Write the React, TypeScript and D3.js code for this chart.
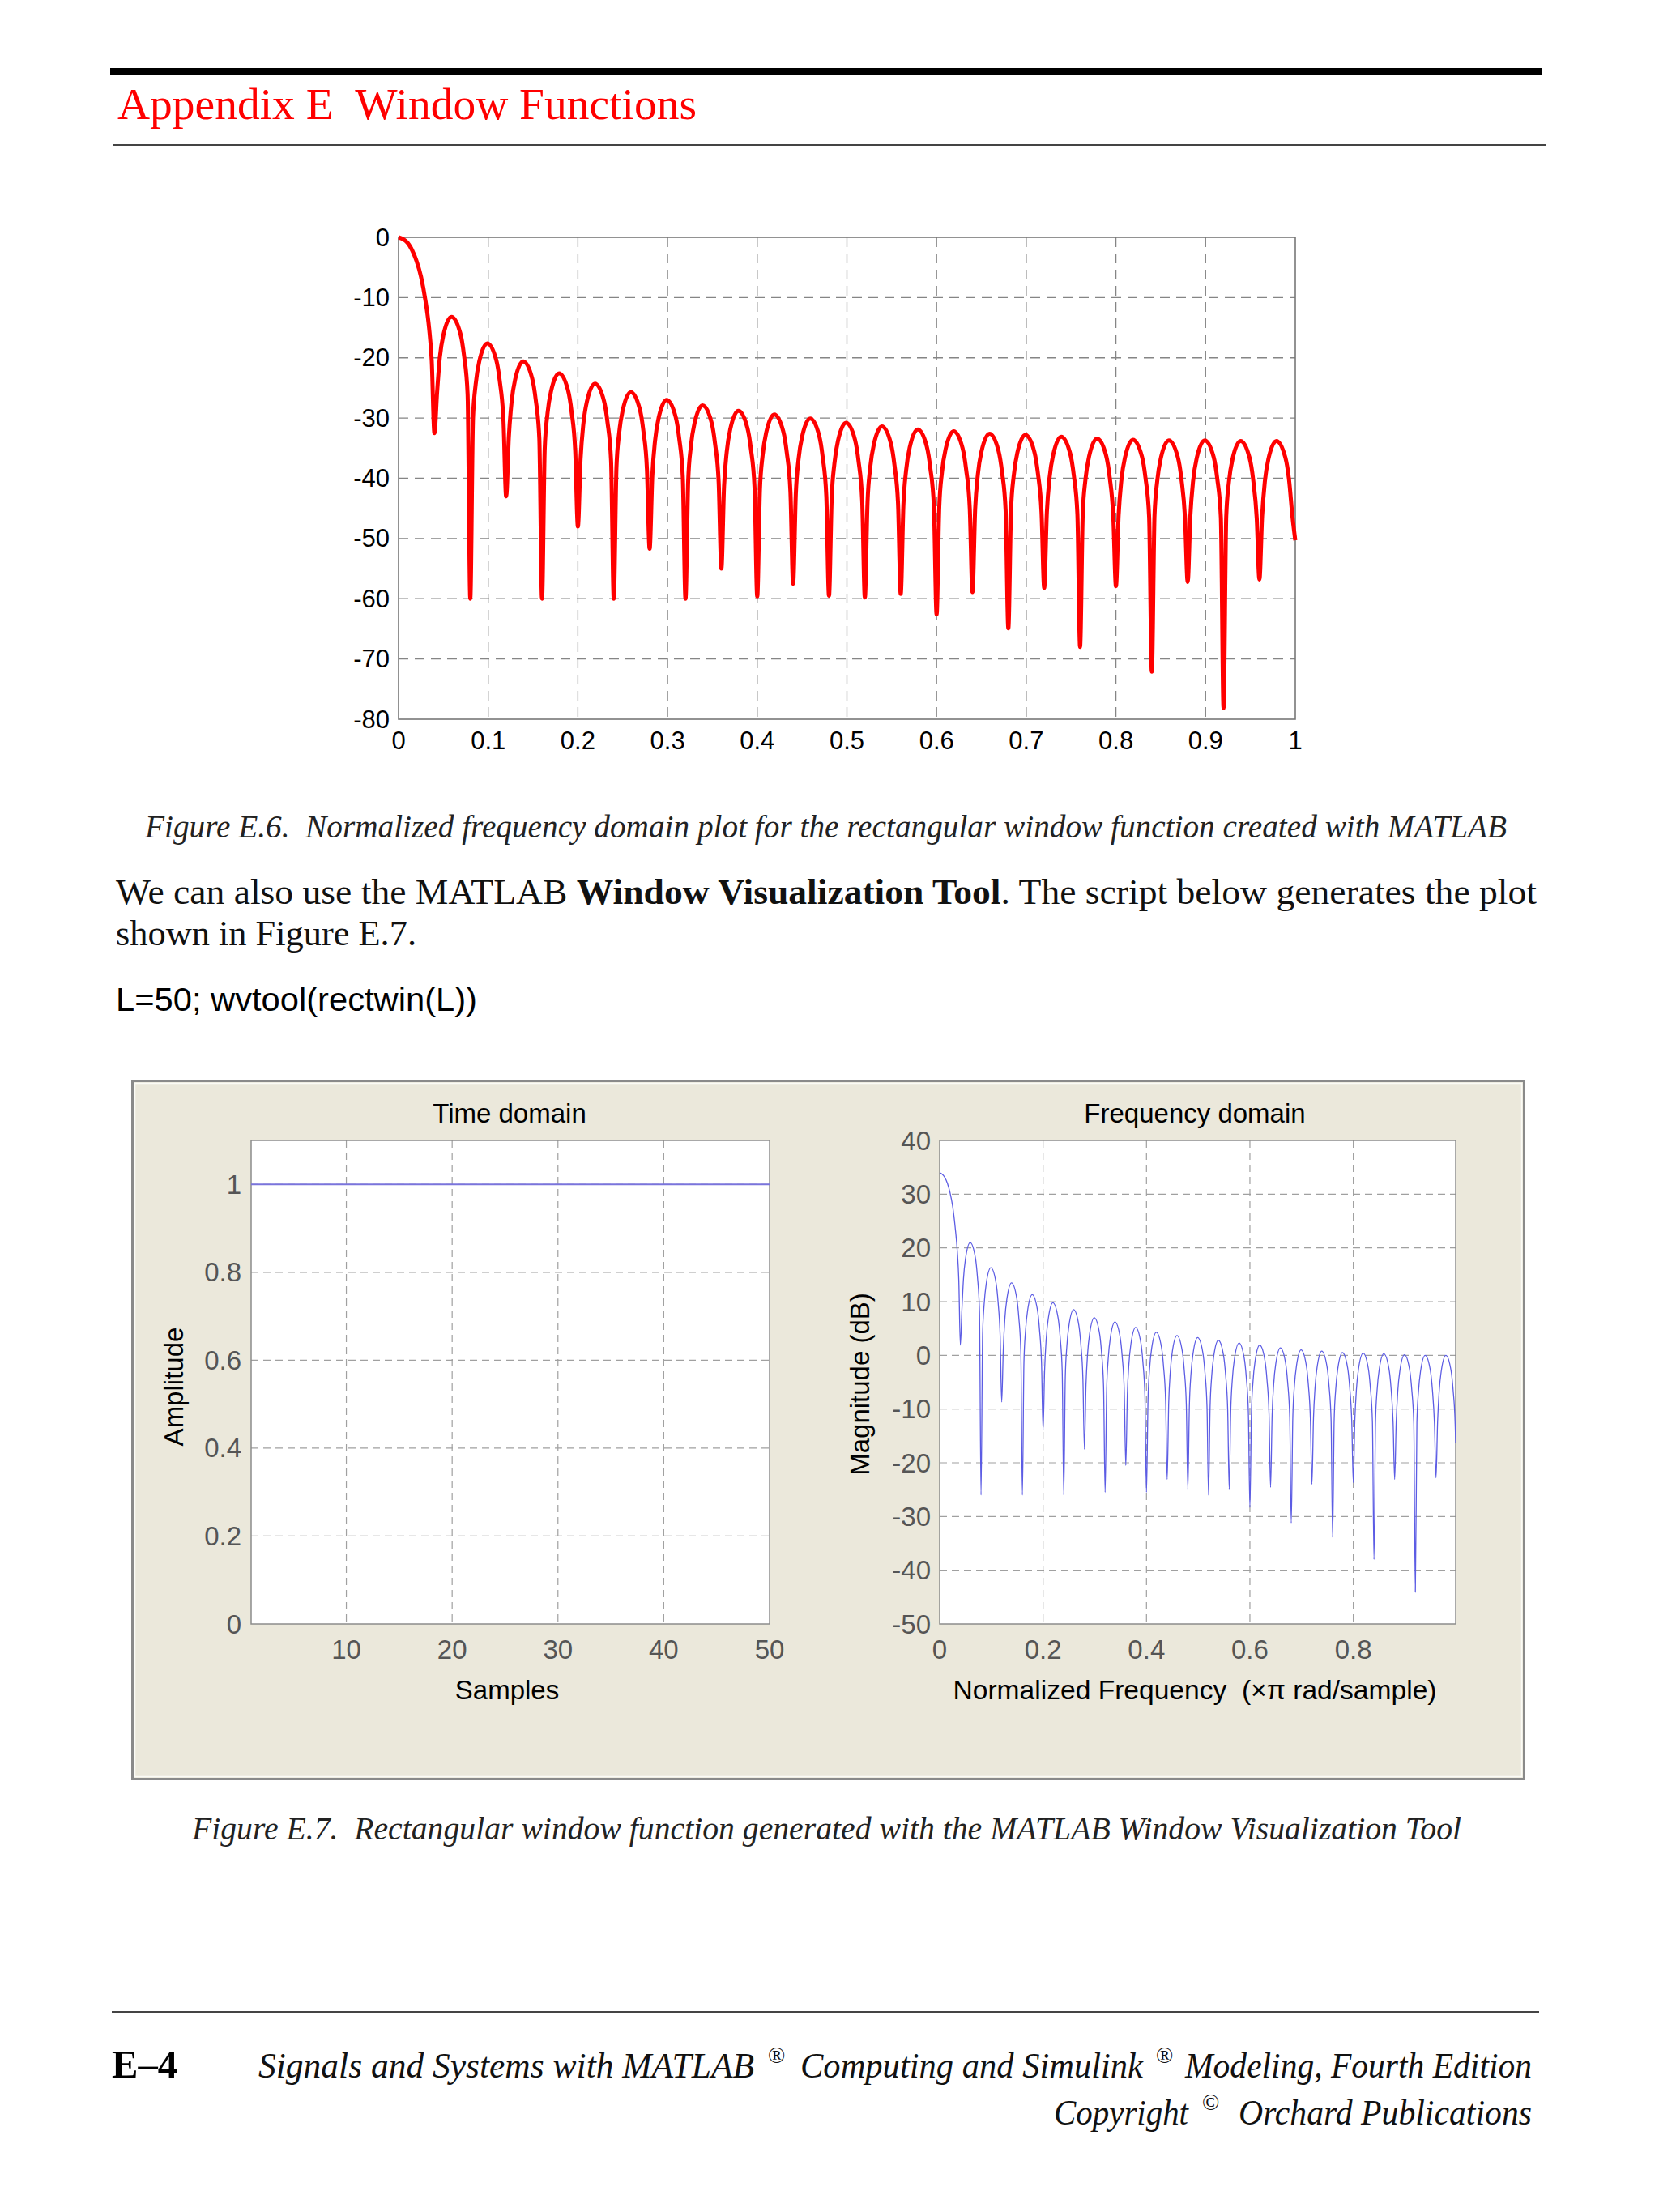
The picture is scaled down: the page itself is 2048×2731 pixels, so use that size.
import React from 'react';
import * as d3 from 'd3';

// ---------- Figure E.6 (red, normalized dB) ----------
const redXTicks = [0, 0.1, 0.2, 0.3, 0.4, 0.5, 0.6, 0.7, 0.8, 0.9, 1];
const redXLabels = ['0', '0.1', '0.2', '0.3', '0.4', '0.5', '0.6', '0.7', '0.8', '0.9', '1'];
const redYTicks = [0, -10, -20, -30, -40, -50, -60, -70, -80];

// frequencies of the side-lobe left nulls (x pi rad/sample)
const nullFreq = [0.04, 0.08, 0.12, 0.16, 0.2, 0.24, 0.28, 0.32, 0.36, 0.4, 0.44, 0.48,
  0.52, 0.56, 0.6, 0.64, 0.68, 0.72, 0.76, 0.8, 0.84, 0.88, 0.92, 0.96];
// sample positions inside each lobe, measured from its left null
const lobeOffsets = [0, 0.003, 0.006, 0.01, 0.019, 0.029, 0.033, 0.037];

const redMainLobe: [number, number][] = [
  [0, 0], [0.005, -0.3], [0.01, -0.9], [0.015, -2.1], [0.02, -3.9], [0.025, -6.5],
  [0.03, -10.5], [0.034, -15], [0.037, -20.5],
];
const redSideLobes = [
  [-32.5, -25.7, -20.0, -16.2, -13.2, -16.0, -19.6, -26.0],
  [-60, -30.1, -24.4, -20.6, -17.6, -20.4, -24.0, -30.4],
  [-43, -33.1, -27.4, -23.6, -20.6, -23.4, -27.0, -33.4],
  [-60, -35.1, -29.4, -25.6, -22.6, -25.4, -29.0, -35.4],
  [-48, -36.8, -31.1, -27.3, -24.3, -27.1, -30.7, -37.1],
  [-60, -38.2, -32.5, -28.7, -25.7, -28.5, -32.1, -38.5],
  [-51.7, -39.5, -33.8, -30.0, -27.0, -29.8, -33.4, -39.8],
  [-60, -40.4, -34.7, -30.9, -27.9, -30.7, -34.3, -40.7],
  [-55, -41.3, -35.6, -31.8, -28.8, -31.6, -35.2, -41.6],
  [-59.6, -41.9, -36.2, -32.4, -29.4, -32.2, -35.8, -42.2],
  [-57.5, -42.6, -36.9, -33.1, -30.1, -32.9, -36.5, -42.9],
  [-59.5, -43.3, -37.6, -33.8, -30.8, -33.6, -37.2, -43.6],
  [-59.8, -43.9, -38.2, -34.4, -31.4, -34.2, -37.8, -44.2],
  [-59.2, -44.4, -38.7, -34.9, -31.9, -34.7, -38.3, -44.7],
  [-62.6, -44.7, -39.0, -35.2, -32.2, -35.0, -38.6, -45.0],
  [-58.9, -45.1, -39.4, -35.6, -32.6, -35.4, -39.0, -45.4],
  [-64.9, -45.3, -39.6, -35.8, -32.8, -35.6, -39.2, -45.6],
  [-58.2, -45.6, -39.9, -36.1, -33.1, -35.9, -39.5, -45.9],
  [-68.0, -45.9, -40.2, -36.4, -33.4, -36.2, -39.8, -46.2],
  [-57.9, -46.1, -40.4, -36.6, -33.6, -36.4, -40.0, -46.4],
  [-72.1, -46.2, -40.5, -36.7, -33.7, -36.5, -40.1, -46.5],
  [-57.2, -46.2, -40.5, -36.7, -33.7, -36.5, -40.1, -46.5],
  [-78.2, -46.3, -40.6, -36.8, -33.8, -36.6, -40.2, -46.6],
  [-56.8, -46.3, -40.6, -36.8, -33.8, -36.6, -40.2, -46.6],
];
const redEnd: [number, number] = [1.0, -50.3];

// ---------- Figure E.7 (wvtool) ----------
const timeSamples = [1, 2, 3, 4, 5, 6, 7, 8, 9, 10, 11, 12, 13, 14, 15, 16, 17, 18, 19, 20, 21, 22, 23, 24, 25,
  26, 27, 28, 29, 30, 31, 32, 33, 34, 35, 36, 37, 38, 39, 40, 41, 42, 43, 44, 45, 46, 47, 48, 49, 50];
const timeAmplitude = [1, 1, 1, 1, 1, 1, 1, 1, 1, 1, 1, 1, 1, 1, 1, 1, 1, 1, 1, 1, 1, 1, 1, 1, 1,
  1, 1, 1, 1, 1, 1, 1, 1, 1, 1, 1, 1, 1, 1, 1, 1, 1, 1, 1, 1, 1, 1, 1, 1, 1];
const timeXTicks = [10, 20, 30, 40, 50];
const timeYTicks = [0, 0.2, 0.4, 0.6, 0.8, 1];
const timeYLabels = ['0', '0.2', '0.4', '0.6', '0.8', '1'];

const freqXTicks = [0, 0.2, 0.4, 0.6, 0.8];
const freqXLabels = ['0', '0.2', '0.4', '0.6', '0.8'];
const freqYTicks = [-50, -40, -30, -20, -10, 0, 10, 20, 30, 40];

const blueMainLobe: [number, number][] = [
  [0, 34], [0.005, 33.7], [0.01, 33.1], [0.015, 32.0], [0.02, 30.3], [0.025, 27.8],
  [0.03, 23.8], [0.034, 19.5], [0.037, 14],
];
const blueSideLobes = [
  [1.9, 8.5, 14.2, 18.0, 21.0, 18.2, 14.6, 8.2],
  [-26, 3.8, 9.5, 13.3, 16.3, 13.5, 9.9, 3.5],
  [-8.7, 1.0, 6.7, 10.5, 13.5, 10.7, 7.1, 0.7],
  [-26, -1.2, 4.5, 8.3, 11.3, 8.5, 4.9, -1.5],
  [-13.9, -2.7, 3.0, 6.8, 9.8, 7.0, 3.4, -3.0],
  [-26, -4.0, 1.7, 5.5, 8.5, 5.7, 2.1, -4.3],
  [-17.5, -5.5, 0.2, 4.0, 7.0, 4.2, 0.6, -5.8],
  [-25.5, -6.3, -0.6, 3.2, 6.2, 3.4, -0.2, -6.6],
  [-20.5, -7.3, -1.6, 2.2, 5.2, 2.4, -1.2, -7.6],
  [-25.5, -8.2, -2.5, 1.3, 4.3, 1.5, -2.1, -8.5],
  [-23.1, -8.8, -3.1, 0.7, 3.7, 0.9, -2.7, -9.1],
  [-24.9, -9.2, -3.5, 0.3, 3.3, 0.5, -3.1, -9.5],
  [-26, -9.7, -4.0, -0.2, 2.8, 0.0, -3.6, -10.0],
  [-24.9, -10.2, -4.5, -0.7, 2.3, -0.5, -4.1, -10.5],
  [-28.3, -10.6, -4.9, -1.1, 1.9, -0.9, -4.5, -10.9],
  [-24.6, -11.1, -5.4, -1.6, 1.4, -1.4, -5.0, -11.4],
  [-31.2, -11.5, -5.8, -2.0, 1.0, -1.8, -5.4, -11.8],
  [-24, -11.7, -6.0, -2.2, 0.8, -2.0, -5.6, -12.0],
  [-33.9, -12.0, -6.3, -2.5, 0.5, -2.3, -5.9, -12.3],
  [-23.7, -12.1, -6.4, -2.6, 0.4, -2.4, -6.0, -12.4],
  [-38, -12.2, -6.5, -2.7, 0.3, -2.5, -6.1, -12.5],
  [-23.1, -12.4, -6.7, -2.9, 0.1, -2.7, -6.3, -12.7],
  [-44.1, -12.5, -6.8, -3.0, 0.0, -2.8, -6.4, -12.8],
  [-22.8, -12.5, -6.8, -3.0, 0.0, -2.8, -6.4, -12.8],
];
const blueEnd: [number, number] = [0.998, -16.3];

function assemble(main: [number, number][], lobes: number[][], end: [number, number]) {
  const pts: [number, number][] = [...main];
  lobes.forEach((row, i) => {
    row.forEach((v, j) => pts.push([nullFreq[i] + lobeOffsets[j], v]));
  });
  pts.push(end);
  return pts;
}

const SANS = '"Liberation Sans", Arial, sans-serif';
const SERIF = '"Liberation Serif", "Times New Roman", serif';

export default function App() {
  // Figure E.6 scales
  const rx = d3.scaleLinear().domain([0, 1]).range([492, 1599]);
  const ry = d3.scaleLinear().domain([-80, 0]).range([888, 293]);
  const redLine = d3.line<[number, number]>().x(d => rx(d[0])).y(d => ry(d[1])).curve(d3.curveMonotoneX);
  const redPath = redLine(assemble(redMainLobe, redSideLobes, redEnd)) || '';

  // wvtool scales
  const tx = d3.scaleLinear().domain([1, 50]).range([310, 950]);
  const ty = d3.scaleLinear().domain([0, 1.1]).range([2005, 1408]);
  const fx = d3.scaleLinear().domain([0, 0.998]).range([1160, 1797]);
  const fy = d3.scaleLinear().domain([-50, 40]).range([2005, 1408]);
  const timeLine = d3.line<number>().x((_, i) => tx(timeSamples[i])).y(d => ty(d));
  const blueLine = d3.line<[number, number]>().x(d => fx(d[0])).y(d => fy(d[1])).curve(d3.curveMonotoneX);
  const bluePath = blueLine(assemble(blueMainLobe, blueSideLobes, blueEnd)) || '';

  const gridRed = '#858585';
  const gridWv = '#a0a0a0';
  const tickWv = '#555555';

  return (
    <svg width={2048} height={2731} viewBox="0 0 2048 2731"
      style={{ position: 'absolute', left: 0, top: 0, background: '#ffffff' }}>
      <rect x={0} y={0} width={2048} height={2731} fill="#ffffff" />

      {/* Header */}
      <rect x={136} y={84} width={1768} height={9} fill="#000" />
      <text x={145} y={147} fontFamily={SERIF} fontSize={54} fill="#ff0000"
        textLength={715} lengthAdjust="spacingAndGlyphs" style={{ whiteSpace: 'pre' }}>
        Appendix E  Window Functions
      </text>
      <line x1={140} x2={1909} y1={179} y2={179} stroke="#444" strokeWidth={2} />

      {/* Figure E.6 */}
      <g>
        <rect x={rx(0)} y={ry(0)} width={rx(1) - rx(0)} height={ry(-80) - ry(0)} fill="#fff" />
        {redXTicks.slice(1, -1).map(t => (
          <line key={'rgx' + t} x1={rx(t)} x2={rx(t)} y1={ry(0)} y2={ry(-80)}
            stroke={gridRed} strokeWidth={1.3} strokeDasharray="12,8" />
        ))}
        {redYTicks.slice(1, -1).map(t => (
          <line key={'rgy' + t} x1={rx(0)} x2={rx(1)} y1={ry(t)} y2={ry(t)}
            stroke={gridRed} strokeWidth={1.3} strokeDasharray="12,8" />
        ))}
        <rect x={rx(0)} y={ry(0)} width={rx(1) - rx(0)} height={ry(-80) - ry(0)}
          fill="none" stroke="#777" strokeWidth={1.6} />
        <path d={redPath} fill="none" stroke="#ff0000" strokeWidth={5} strokeLinejoin="round" />
        {redYTicks.map(t => (
          <text key={'ryl' + t} x={481} y={ry(t)} fontFamily={SANS} fontSize={31} textAnchor="end"
            dominantBaseline="central" fill="#000">{String(t)}</text>
        ))}
        {redXTicks.map((t, i) => (
          <text key={'rxl' + t} x={rx(t)} y={914} fontFamily={SANS} fontSize={31} textAnchor="middle"
            dominantBaseline="central" fill="#000">{redXLabels[i]}</text>
        ))}
      </g>

      <text x={179} y={1034} fontFamily={SERIF} fontStyle="italic" fontSize={40} fill="#222"
        textLength={1681} lengthAdjust="spacingAndGlyphs" style={{ whiteSpace: 'pre' }}>
        Figure E.6.  Normalized frequency domain plot for the rectangular window function created with MATLAB
      </text>

      {/* Body text */}
      <text x={143} y={1116} fontFamily={SERIF} fontSize={44} fill="#111"
        textLength={1754} lengthAdjust="spacingAndGlyphs">
        We can also use the MATLAB <tspan fontWeight="bold">Window Visualization Tool</tspan>. The script below generates the plot
      </text>
      <text x={143} y={1167} fontFamily={SERIF} fontSize={44} fill="#111"
        textLength={371} lengthAdjust="spacingAndGlyphs">
        shown in Figure E.7.
      </text>
      <text x={143} y={1248} fontFamily={SANS} fontSize={41.5} fill="#000"
        textLength={446} lengthAdjust="spacingAndGlyphs">
        L=50; wvtool(rectwin(L))
      </text>

      {/* Figure E.7 frame */}
      <rect x={163.5} y={1334.5} width={1718} height={862} fill="#ebe8db" stroke="#8a8a8a" strokeWidth={3} />
      <rect x={166.5} y={1337.5} width={1712} height={856} fill="none" stroke="#fbfbf6" strokeWidth={1.5} />

      {/* Time domain axes */}
      <g>
        <rect x={tx(1)} y={ty(1.1)} width={tx(50) - tx(1)} height={ty(0) - ty(1.1)} fill="#fff" />
        {timeXTicks.slice(0, -1).map(t => (
          <line key={'tgx' + t} x1={tx(t)} x2={tx(t)} y1={ty(1.1)} y2={ty(0)}
            stroke={gridWv} strokeWidth={1.2} strokeDasharray="9,6" />
        ))}
        {timeYTicks.slice(1).map(t => (
          <line key={'tgy' + t} x1={tx(1)} x2={tx(50)} y1={ty(t)} y2={ty(t)}
            stroke={gridWv} strokeWidth={1.2} strokeDasharray="9,6" />
        ))}
        <rect x={tx(1)} y={ty(1.1)} width={tx(50) - tx(1)} height={ty(0) - ty(1.1)}
          fill="none" stroke="#8c8c8c" strokeWidth={1.5} />
        <path d={timeLine(timeAmplitude) || ''} fill="none" stroke="#7a74dc" strokeWidth={2} />
        {timeYTicks.map((t, i) => (
          <text key={'tyl' + t} x={298} y={ty(t)} fontFamily={SANS} fontSize={33} textAnchor="end"
            dominantBaseline="central" fill={tickWv}>{timeYLabels[i]}</text>
        ))}
        {timeXTicks.map(t => (
          <text key={'txl' + t} x={tx(t)} y={2036} fontFamily={SANS} fontSize={33} textAnchor="middle"
            dominantBaseline="central" fill={tickWv}>{String(t)}</text>
        ))}
        <text x={629} y={1374} fontFamily={SANS} fontSize={33} textAnchor="middle"
          dominantBaseline="central" fill="#000">Time domain</text>
        <text x={626} y={2086} fontFamily={SANS} fontSize={33} textAnchor="middle"
          dominantBaseline="central" fill="#000">Samples</text>
        <text transform="translate(214,1712) rotate(-90)" fontFamily={SANS} fontSize={33} textAnchor="middle"
          dominantBaseline="central" fill="#000">Amplitude</text>
      </g>

      {/* Frequency domain axes */}
      <g>
        <rect x={fx(0)} y={fy(40)} width={fx(0.998) - fx(0)} height={fy(-50) - fy(40)} fill="#fff" />
        {freqXTicks.slice(1).map(t => (
          <line key={'fgx' + t} x1={fx(t)} x2={fx(t)} y1={fy(40)} y2={fy(-50)}
            stroke={gridWv} strokeWidth={1.2} strokeDasharray="9,6" />
        ))}
        {freqYTicks.slice(1, -1).map(t => (
          <line key={'fgy' + t} x1={fx(0)} x2={fx(0.998)} y1={fy(t)} y2={fy(t)}
            stroke={gridWv} strokeWidth={1.2} strokeDasharray="9,6" />
        ))}
        <rect x={fx(0)} y={fy(40)} width={fx(0.998) - fx(0)} height={fy(-50) - fy(40)}
          fill="none" stroke="#8c8c8c" strokeWidth={1.5} />
        <path d={bluePath} fill="none" stroke="#5c5ce4" strokeWidth={1.3} strokeLinejoin="round" />
        {freqYTicks.map(t => (
          <text key={'fyl' + t} x={1149} y={fy(t)} fontFamily={SANS} fontSize={33} textAnchor="end"
            dominantBaseline="central" fill={tickWv}>{String(t)}</text>
        ))}
        {freqXTicks.map((t, i) => (
          <text key={'fxl' + t} x={fx(t)} y={2036} fontFamily={SANS} fontSize={33} textAnchor="middle"
            dominantBaseline="central" fill={tickWv}>{freqXLabels[i]}</text>
        ))}
        <text x={1475} y={1374} fontFamily={SANS} fontSize={33} textAnchor="middle"
          dominantBaseline="central" fill="#000">Frequency domain</text>
        <text x={1475} y={2086} fontFamily={SANS} fontSize={33} textAnchor="middle"
          dominantBaseline="central" fill="#000" textLength={597} lengthAdjust="spacingAndGlyphs"
          style={{ whiteSpace: 'pre' }}>Normalized Frequency  (×π rad/sample)</text>
        <text transform="translate(1061,1709) rotate(-90)" fontFamily={SANS} fontSize={33} textAnchor="middle"
          dominantBaseline="central" fill="#000">Magnitude (dB)</text>
      </g>

      <text x={237} y={2271} fontFamily={SERIF} fontStyle="italic" fontSize={40} fill="#222"
        textLength={1567} lengthAdjust="spacingAndGlyphs" style={{ whiteSpace: 'pre' }}>
        Figure E.7.  Rectangular window function generated with the MATLAB Window Visualization Tool
      </text>

      {/* Footer */}
      <line x1={138} x2={1900} y1={2484} y2={2484} stroke="#444" strokeWidth={2} />
      <text x={138} y={2565} fontFamily={SERIF} fontWeight="bold" fontSize={48} fill="#000"
        textLength={81} lengthAdjust="spacingAndGlyphs">E–4</text>
      <text x={319} y={2565} fontFamily={SERIF} fontStyle="italic" fontSize={44} fill="#111"
        textLength={612} lengthAdjust="spacingAndGlyphs">Signals and Systems with MATLAB</text>
      <text x={948} y={2547} fontFamily={SERIF} fontSize={28} fill="#111">®</text>
      <text x={988} y={2565} fontFamily={SERIF} fontStyle="italic" fontSize={44} fill="#111"
        textLength={423} lengthAdjust="spacingAndGlyphs">Computing and Simulink</text>
      <text x={1427} y={2547} fontFamily={SERIF} fontSize={28} fill="#111">®</text>
      <text x={1463} y={2565} fontFamily={SERIF} fontStyle="italic" fontSize={44} fill="#111"
        textLength={428} lengthAdjust="spacingAndGlyphs">Modeling, Fourth Edition</text>
      <text x={1301} y={2623} fontFamily={SERIF} fontStyle="italic" fontSize={44} fill="#111"
        textLength={166} lengthAdjust="spacingAndGlyphs">Copyright</text>
      <text x={1484} y={2605} fontFamily={SERIF} fontSize={28} fill="#111">©</text>
      <text x={1891} y={2623} fontFamily={SERIF} fontStyle="italic" fontSize={44} fill="#111" textAnchor="end"
        textLength={362} lengthAdjust="spacingAndGlyphs">Orchard Publications</text>
    </svg>
  );
}
